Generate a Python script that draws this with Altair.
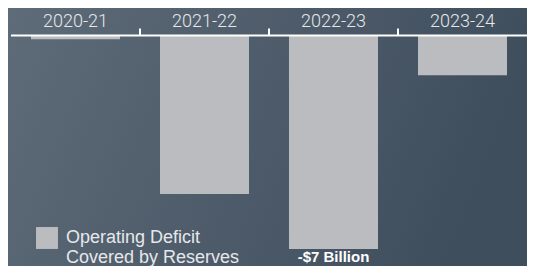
import altair as alt
import pandas as pd

years = ["2020-21", "2021-22", "2022-23", "2023-24"]
deficit = [-0.12, -5.2, -7.0, -1.3]
series_name = "Operating Deficit|Covered by Reserves"
tick_years = ["2021-22", "2022-23", "2023-24"]
callout_year = ["2022-23"]
callout_value = [-7.0]
callout_text = ["-$7 Billion"]

W, H = 516, 214
PAD = {"left": 3, "top": 27.5, "right": 0, "bottom": 16.5}
FONT = "Liberation Sans"
AXFONT = "Roboto"
BAR = "#bbbcbf"
TXT = "#e6e8eb"

df = pd.DataFrame({"year": years, "value": deficit, "series": [series_name] * len(years)})
ticks = pd.DataFrame({"year": tick_years})
callout = pd.DataFrame({"year": callout_year, "value": callout_value, "label": callout_text})

xscale = alt.Scale(domain=years, paddingInner=0, paddingOuter=0)
yscale = alt.Scale(domain=[-7.02, 0], nice=False)

bg = alt.Chart(pd.DataFrame({"a": [0]})).mark_rect(
    color=alt.LinearGradient(
        gradient="linear",
        stops=[alt.GradientStop(color="#5e6b79", offset=0),
               alt.GradientStop(color="#3f4e5d", offset=1)],
        x1=0, x2=1, y1=0, y2=0.2,
    )
).encode(
    x=alt.value(-PAD["left"]), x2=alt.value(W + PAD["right"]),
    y=alt.value(-PAD["top"]), y2=alt.value(H + PAD["bottom"]),
)

bars = alt.Chart(df).mark_bar(width=alt.RelativeBandSize(0.69), color=BAR).encode(
    x=alt.X("year:N", scale=xscale, sort=years,
            axis=alt.Axis(orient="top", title=None, ticks=False, domain=False,
                          labelAngle=0, labelFontSize=18, labelFont=AXFONT,
                          labelFontWeight=300,
                          labelColor=TXT, labelPadding=5, grid=False, zindex=2)),
    y=alt.Y("value:Q", scale=yscale, axis=None),
    y2=alt.datum(0),
    color=alt.Color("series:N", scale=alt.Scale(range=[BAR]),
                    legend=alt.Legend(orient="none", legendX=25, legendY=191.5, title=None,
                                      symbolType="square", symbolSize=480,
                                      symbolStrokeWidth=0, symbolOpacity=1,
                                      labelExpr="split(datum.label, '|')",
                                      labelFontSize=18, labelFont=FONT, labelColor=TXT,
                                      labelLimit=0, labelOffset=8, padding=0, zindex=2)),
)

domain_line = alt.Chart(pd.DataFrame({"a": [0]})).mark_rule(color="white", strokeWidth=2).encode(
    x=alt.value(0), x2=alt.value(W + PAD["right"]), y=alt.value(0)
)

tick_marks = alt.Chart(ticks).mark_rule(color="white", strokeWidth=2).encode(
    x=alt.X("year:N", scale=xscale, sort=years, bandPosition=0),
    y=alt.value(-7), y2=alt.value(0),
)

label = alt.Chart(callout).mark_text(
    baseline="alphabetic", dy=13, fontSize=15, fontWeight="bold", font=FONT, color="white"
).encode(
    x=alt.X("year:N", scale=xscale, sort=years),
    y=alt.Y("value:Q", scale=yscale),
    text="label:N",
)

chart = alt.layer(bg, bars, domain_line, tick_marks, label).properties(
    width=W, height=H,
    autosize=alt.AutoSizeParams(type="none"),
    padding=PAD,
    background="#4e5b69",
).configure_view(stroke=None)

chart.save("out.html", embed_options={"renderer": "svg", "actions": False})
